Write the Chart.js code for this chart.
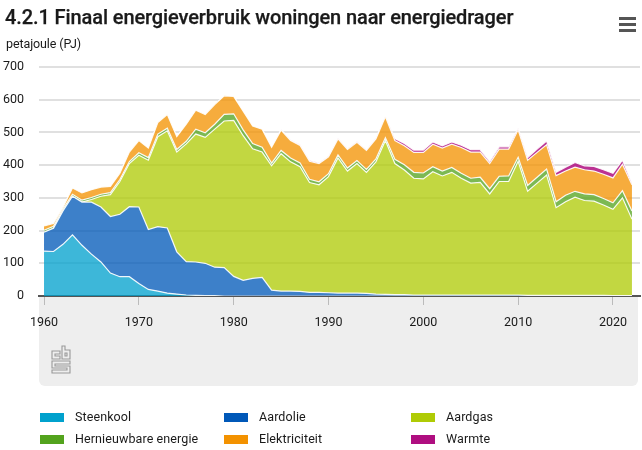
<!DOCTYPE html>
<html lang="nl">
<head>
<meta charset="utf-8">
<title>Finaal energieverbruik woningen</title>
<script src="https://cdn.jsdelivr.net/npm/chart.js@4"></script>
<style>
    html, body { margin: 0; padding: 0; background: #fff; }
    body { width: 642px; height: 450px; position: relative; overflow: hidden; font-family: Roboto, sans-serif; color: #1a1a1a; }
    h1 { position: absolute; left: 5px; top: 3px; margin: 0; font-size: 20px; line-height: 28px; font-weight: 500; white-space: nowrap; letter-spacing: -0.1px; -webkit-text-stroke: 0.25px #1a1a1a; }
    #unit { position: absolute; left: 6px; top: 36px; font-size: 12.5px; line-height: 16px; letter-spacing: -0.1px; }
    #menu { position: absolute; left: 619px; top: 17px; width: 17px; }
    #menu div { height: 3px; margin-bottom: 3px; background: #555; }
    #panel { position: absolute; left: 39px; top: 296px; width: 599px; height: 90px; background: #eee; border-radius: 0 0 6px 6px; }
    #logo { position: absolute; left: 51px; top: 345px; }
    canvas { position: absolute; left: 0; top: 0; }
    .legend-item { position: absolute; font-size: 12.5px; line-height: 16px; white-space: nowrap; padding-left: 36px; letter-spacing: 0.1px; }
    .legend-item span { position: absolute; left: 0; top: 3px; width: 24px; height: 9px; border: 1px solid #fff; }
</style>
</head>
<body>
<div id="panel"></div>
<svg id="logo" width="20" height="29" viewBox="0 0 20 29" fill="none" stroke="#999" stroke-width="1.1">
    <path d="M9 6H1V14H9V11H4V9H9Z"/>
    <path d="M11 1V14H19V5H14V1ZM14 8H16V11H14Z"/>
    <path d="M19 16H1V23H16V25H1V28H19V21H4V19H19Z"/>
</svg>
<div style="position:absolute;left:0;top:0;width:642px;height:450px"><canvas id="chart"></canvas></div>
<h1>4.2.1 Finaal energieverbruik woningen naar energiedrager</h1>
<div id="unit">petajoule (PJ)</div>
<div id="menu"><div></div><div></div><div></div></div>
<div id="legend"></div>
<script>
const years = [
    1960, 1961, 1962, 1963, 1964, 1965, 1966, 1967, 1968, 1969,
    1970, 1971, 1972, 1973, 1974, 1975, 1976, 1977, 1978, 1979,
    1980, 1981, 1982, 1983, 1984, 1985, 1986, 1987, 1988, 1989,
    1990, 1991, 1992, 1993, 1994, 1995, 1996, 1997, 1998, 1999,
    2000, 2001, 2002, 2003, 2004, 2005, 2006, 2007, 2008, 2009,
    2010, 2011, 2012, 2013, 2014, 2015, 2016, 2017, 2018, 2019,
    2020, 2021, 2022
];

const steenkool = [
    137, 136, 158, 187, 155, 128, 104, 70, 59, 59,
    38, 20, 15, 9, 6, 3, 2, 1, 1, 0,
    0, 0, 0, 0, 0, 0, 0, 0, 0, 0,
    0, 0, 0, 0, 0, 0, 0, 0, 0, 0,
    0, 0, 0, 0, 0, 0, 0, 0, 0, 0,
    0, 0, 0, 0, 0, 0, 0, 0, 0, 0,
    0, 0, 0
];
const aardolie = [
    58, 71, 102, 118, 132, 159, 168, 173, 191, 214,
    234, 183, 197, 199, 129, 102, 102, 99, 87, 87,
    60, 48, 54, 57, 18, 15, 15, 14, 11, 11,
    10, 9, 9, 9, 8, 6, 5, 4, 4, 3,
    3, 3, 3, 3, 3, 3, 3, 3, 3, 3,
    3, 2, 2, 2, 2, 2, 2, 2, 2, 2,
    1, 1, 1
];
const aardgas = [
    0, 0, 0, 0, 0, 8, 33, 67, 100, 132,
    158, 212, 275, 297, 305, 360, 391, 385, 422, 448,
    477, 442, 396, 383, 380, 420, 395, 381, 336, 329,
    355, 413, 373, 396, 370, 404, 470, 401, 381, 357,
    355, 377, 364, 375, 357, 342, 344, 309, 347, 347,
    409, 318, 343, 368, 268, 286, 300, 290, 288, 276,
    264, 299, 234
];
const hernieuwbaar = [
    6, 6, 6, 6, 6, 6, 6, 6, 6, 6,
    8, 8, 8, 8, 8, 8, 15, 14, 15, 20,
    20, 18, 16, 15, 8, 10, 12, 12, 10, 9,
    9, 9, 9, 9, 9, 9, 9, 13, 16, 18,
    18, 15, 15, 15, 15, 15, 16, 16, 16, 17,
    12, 18, 18, 18, 18, 20, 18, 20, 20, 20,
    20, 22, 25
];
const elektriciteit = [
    13, 9, 5, 19, 22, 24, 22, 19, 19, 29,
    37, 29, 35, 42, 39, 52, 58, 56, 60, 57,
    53, 57, 54, 55, 49, 62, 53, 53, 55, 56,
    51, 49, 57, 56, 58, 61, 64, 57, 58, 61,
    63, 69, 70, 71, 79, 80, 77, 77, 83, 82,
    84, 77, 76, 74, 80, 74, 74, 74, 72, 74,
    76, 81, 80
];
const warmte = [
    0, 0, 0, 0, 0, 0, 0, 0, 0, 0,
    0, 0, 0, 0, 0, 0, 0, 0, 0, 0,
    0, 0, 0, 0, 0, 2, 2, 2, 2, 2,
    2, 2, 2, 2, 2, 2, 2, 6, 7, 7,
    7, 7, 7, 7, 7, 7, 7, 6, 7, 7,
    5, 8, 10, 12, 10, 12, 14, 12, 14, 14,
    14, 12, 5
];

const seriesNames = ["Steenkool", "Aardolie", "Aardgas", "Hernieuwbare energie", "Elektriciteit", "Warmte"];
const seriesValues = [steenkool, aardolie, aardgas, hernieuwbaar, elektriciteit, warmte];
const seriesColors = ["#00a1cd", "#0058b8", "#afcb05", "#53a31d", "#f39200", "#af0e80"];
const fillColors = [
    "rgba(0,161,205,0.76)", "rgba(0,88,184,0.76)", "rgba(175,203,5,0.76)",
    "rgba(83,163,29,0.76)", "rgba(243,146,0,0.76)", "rgba(175,14,128,0.85)"
];

// legenda staat in kolommen onder de grafiek, dus die bouwen we zelf op
const legendSpots = [[39, 409], [223, 409], [410, 409], [39, 431], [223, 431], [410, 431]];
const legend = document.getElementById("legend");
seriesNames.forEach((name, i) => {
    const item = document.createElement("div");
    item.className = "legend-item";
    item.style.left = legendSpots[i][0] + "px";
    item.style.top = legendSpots[i][1] + "px";
    item.textContent = name;
    const swatch = document.createElement("span");
    swatch.style.background = seriesColors[i];
    item.appendChild(swatch);
    legend.appendChild(item);
});

const canvas = document.getElementById("chart");
canvas.width = 642;
canvas.height = 450;

new Chart(canvas, {
    type: "line",
    data: {
        labels: years,
        datasets: seriesNames.map((name, i) => ({
            label: name,
            data: seriesValues[i],
            backgroundColor: fillColors[i],
            borderColor: "rgba(255,255,255,0.9)",
            borderWidth: 1.2,
            pointRadius: 0,
            tension: 0,
            fill: i === 0 ? "origin" : "-1"
        }))
    },
    options: {
        responsive: false,
        animation: false,
        layout: { padding: { top: 67, right: 2, left: 0, bottom: 0 } },
        plugins: { legend: { display: false }, tooltip: { enabled: false } },
        scales: {
            x: {
                type: "linear",
                // het plotvlak loopt iets door voorbij de eerste en laatste meting
                min: 1959.47,
                max: 2022.85,
                afterFit: scale => { scale.height = 154; },
                border: { color: "#555", width: 2 },
                grid: { drawOnChartArea: false, tickLength: 9, tickColor: "#bbb", tickWidth: 1 },
                ticks: {
                    stepSize: 10,
                    includeBounds: false,
                    maxRotation: 0,
                    padding: 10,
                    color: "#1a1a1a",
                    font: { family: "Roboto", size: 12.5 },
                    callback: value => String(value)
                }
            },
            y: {
                stacked: true,
                min: 0,
                max: 700,
                afterFit: scale => { scale.width = 39; },
                border: { display: false },
                grid: { color: "#e0e0e0", lineWidth: 2, drawTicks: false },
                ticks: {
                    stepSize: 100,
                    padding: 15,
                    color: "#1a1a1a",
                    font: { family: "Roboto", size: 12.5 }
                }
            }
        }
    }
});
</script>
</body>
</html>
